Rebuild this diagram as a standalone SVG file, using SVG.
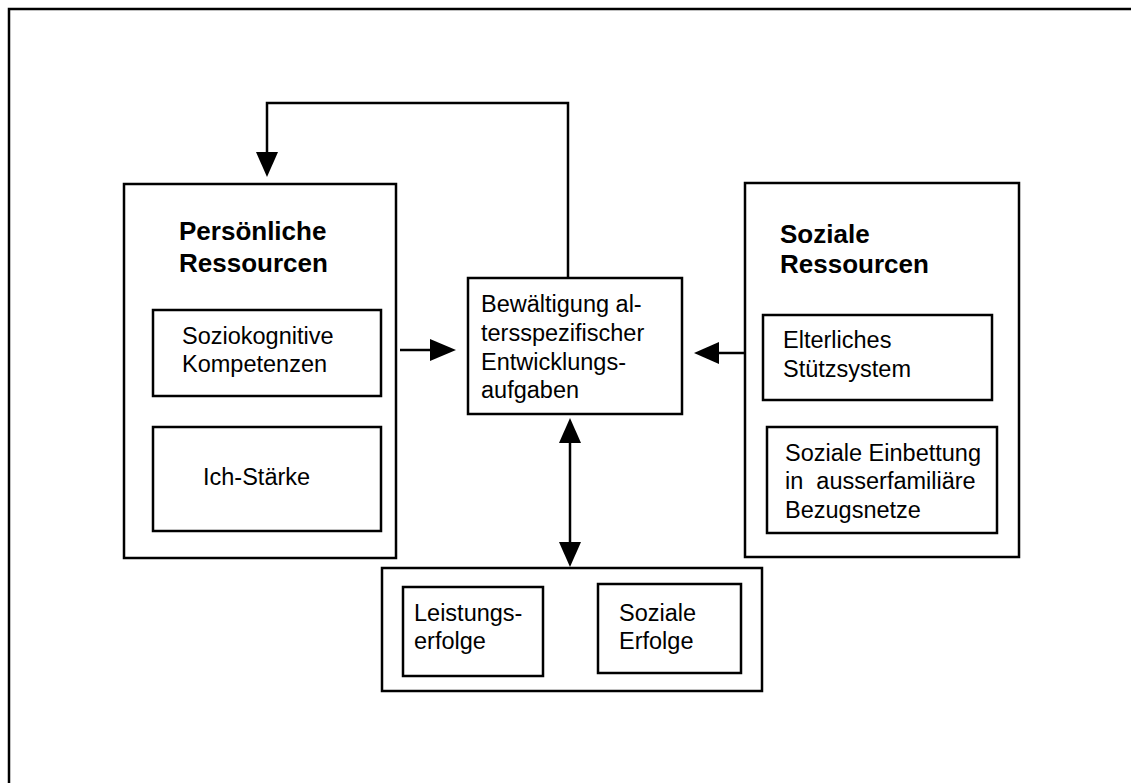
<svg xmlns="http://www.w3.org/2000/svg" width="1131" height="783" viewBox="0 0 1131 783">
<style>
.box{fill:#fff;stroke:#000;stroke-width:2.5}
.t{font-family:"Liberation Sans",Arial,sans-serif;font-size:23.5px;fill:#000;white-space:pre}
.b{font-family:"Liberation Sans",Arial,sans-serif;font-size:26px;font-weight:bold;fill:#000}
.c{fill:none;stroke:#000;stroke-width:2.5}
</style>
<rect width="1131" height="783" fill="#fff"/>
<path d="M9,783 V9 H1131" fill="none" stroke="#000" stroke-width="2.5"/>
<g id="connectors">
<path class="c" d="M568,278 V103 H267 V160"/>
<path d="M256,152 L278,152 L267,177 Z"/>
<line class="c" x1="400" y1="350" x2="432" y2="350"/>
<path d="M430,339 L456,350 L430,361 Z"/>
<line class="c" x1="745" y1="353" x2="716" y2="353"/>
<path d="M719,342 L694,353 L719,364 Z"/>
<line class="c" x1="570" y1="440" x2="570" y2="545"/>
<path d="M559,443 L570,418 L581,443 Z"/>
<path d="M559,542 L570,567 L581,542 Z"/>
</g>
<g id="persoenliche">
<rect class="box" x="124" y="184" width="272" height="374"/>
<text class="b" x="179" y="240">Persönliche</text>
<text class="b" x="179" y="272">Ressourcen</text>
</g>
<g id="soziokognitive">
<rect class="box" x="153" y="310" width="228" height="86"/>
<text class="t" x="182" y="344">Soziokognitive</text>
<text class="t" x="182" y="372">Kompetenzen</text>
</g>
<g id="ichstaerke">
<rect class="box" x="153" y="427" width="228" height="104"/>
<text class="t" x="203" y="485">Ich-Stärke</text>
</g>
<g id="bewaeltigung">
<rect class="box" x="468" y="278" width="214" height="136"/>
<text class="t" x="481" y="312">Bewältigung al-</text>
<text class="t" x="481" y="341">tersspezifischer</text>
<text class="t" x="481" y="370">Entwicklungs-</text>
<text class="t" x="481" y="398">aufgaben</text>
</g>
<g id="soziale">
<rect class="box" x="745" y="183" width="274" height="374"/>
<text class="b" x="780" y="243">Soziale</text>
<text class="b" x="780" y="273">Ressourcen</text>
</g>
<g id="elterliches">
<rect class="box" x="763" y="315" width="229" height="85"/>
<text class="t" x="783" y="348">Elterliches</text>
<text class="t" x="783" y="377">Stützsystem</text>
</g>
<g id="einbettung">
<rect class="box" x="767" y="427" width="230" height="106"/>
<text class="t" x="785" y="461">Soziale Einbettung</text>
<text class="t" x="785" y="489">in  ausserfamiliäre</text>
<text class="t" x="785" y="518">Bezugsnetze</text>
</g>
<g id="erfolge">
<rect class="box" x="382" y="568" width="380" height="123"/>
</g>
<g id="leistung">
<rect class="box" x="403" y="587" width="140" height="89"/>
<text class="t" x="414" y="621">Leistungs-</text>
<text class="t" x="414" y="649">erfolge</text>
</g>
<g id="sozialeerfolge">
<rect class="box" x="598" y="584" width="143" height="89"/>
<text class="t" x="619" y="621">Soziale</text>
<text class="t" x="619" y="649">Erfolge</text>
</g>
</svg>
